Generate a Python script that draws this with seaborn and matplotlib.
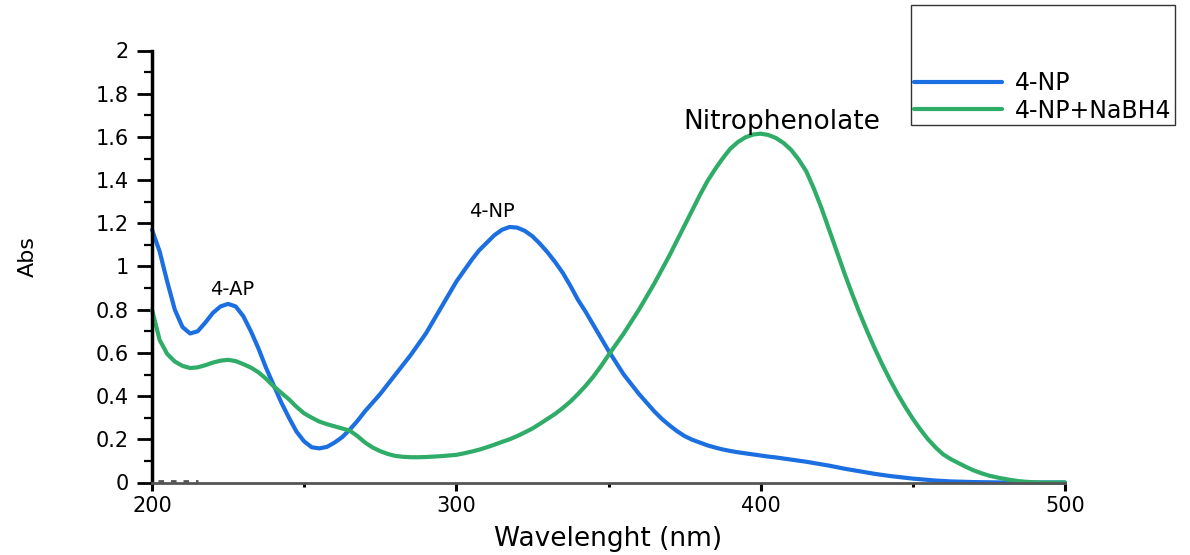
import numpy as np
import pandas as pd
import matplotlib
matplotlib.use("Agg")
import matplotlib.pyplot as plt
from matplotlib.ticker import MultipleLocator, FixedLocator, FuncFormatter
import seaborn as sns

# Wavelength grid (nm), 2.5 nm steps
wavelength = list(np.arange(200, 500.01, 2.5))

# Absorbance of 4-nitrophenol
abs_4np = [
    # 200 - 270
    1.17, 1.07, 0.93, 0.80, 0.72, 0.69, 0.70, 0.74, 0.785, 0.815,
    0.827, 0.815, 0.77, 0.70, 0.62, 0.53, 0.45, 0.37, 0.30, 0.235,
    0.19, 0.163, 0.158, 0.165, 0.185, 0.21, 0.245, 0.285, 0.33,
    # 272.5 - 400
    0.37, 0.41, 0.455, 0.50, 0.545, 0.59, 0.64, 0.69, 0.75, 0.81,
    0.87, 0.93, 0.98, 1.03, 1.075, 1.11, 1.145, 1.17, 1.183, 1.18,
    1.165, 1.14, 1.105, 1.065, 1.02, 0.97, 0.91, 0.845, 0.79, 0.73,
    0.67, 0.61, 0.555, 0.50, 0.455, 0.41, 0.37, 0.33, 0.295, 0.265,
    0.238, 0.215, 0.198, 0.185, 0.172, 0.162, 0.153, 0.146, 0.14, 0.135,
    0.13, 0.125,
    # 402.5 - 500
    0.12, 0.116, 0.111, 0.106, 0.101, 0.096, 0.09, 0.084, 0.078, 0.071,
    0.064, 0.058, 0.052, 0.046, 0.04, 0.035, 0.03, 0.026, 0.022, 0.018,
    0.015, 0.012, 0.009, 0.007, 0.005, 0.004, 0.003, 0.002, 0.0015, 0.001,
    0.0005, 0, 0, 0, 0, 0, 0, 0, 0, 0,
]

# Absorbance of 4-nitrophenol after NaBH4 addition
abs_4np_nabh4 = [
    # 200 - 270
    0.80, 0.66, 0.595, 0.56, 0.54, 0.53, 0.533, 0.543, 0.555, 0.564,
    0.568, 0.562, 0.548, 0.532, 0.51, 0.48, 0.445, 0.415, 0.385, 0.35,
    0.32, 0.30, 0.282, 0.27, 0.26, 0.25, 0.24, 0.215, 0.185,
    # 272.5 - 400
    0.162, 0.145, 0.132, 0.123, 0.119, 0.117, 0.117, 0.118, 0.12, 0.122,
    0.125, 0.128, 0.135, 0.143, 0.152, 0.163, 0.175, 0.188, 0.2, 0.215,
    0.232, 0.25, 0.272, 0.295, 0.318, 0.345, 0.375, 0.41, 0.448, 0.49,
    0.538, 0.59, 0.64, 0.69, 0.745, 0.80, 0.86, 0.92, 0.985, 1.05,
    1.12, 1.19, 1.26, 1.33, 1.395, 1.45, 1.50, 1.545, 1.576, 1.598,
    1.611, 1.615,
    # 402.5 - 500
    1.609, 1.595, 1.572, 1.54, 1.495, 1.44, 1.36, 1.27, 1.17, 1.07,
    0.97, 0.875, 0.785, 0.70, 0.62, 0.545, 0.475, 0.41, 0.35, 0.295,
    0.245, 0.20, 0.162, 0.13, 0.108, 0.09, 0.072, 0.056, 0.043, 0.032,
    0.024, 0.017, 0.011, 0.006, 0.003, 0.001, 0, 0, 0, 0,
]

series_names = ["4-NP", "4-NP+NaBH4"]
series_colors = ["#1c6fe0", "#2fac68"]

# Short instrument baseline trace near zero
baseline_x = [202, 215]
baseline_y = [0.006, 0.006]

x_major = [200, 300, 400, 500]
x_minor = [250, 350, 450]

peak_labels = ["4-AP", "4-NP", "Nitrophenolate"]
peak_pos = [(226.3, 0.895), (311.7, 1.253), (407.0, 1.67)]
peak_sizes = [14, 14, 19]

df = pd.DataFrame({
    "Wavelength": wavelength * 2,
    "Abs": abs_4np + abs_4np_nabh4,
    "Sample": [series_names[0]] * len(wavelength) + [series_names[1]] * len(wavelength),
})

sns.set_theme(style="white")
plt.rcParams["font.family"] = ["DejaVu Sans"]

fig = plt.figure(figsize=(11.9, 5.55), dpi=100)
ax = fig.add_axes([152 / 1190, 1 - 482.5 / 555, 913 / 1190, 432 / 555])

sns.lineplot(data=df, x="Wavelength", y="Abs", hue="Sample",
             palette=dict(zip(series_names, series_colors)),
             linewidth=3.0, legend=False, ax=ax, sort=True)
for ln in ax.lines:
    ln.set_clip_on(False)
    ln.set_solid_joinstyle("round")

ax.plot(baseline_x, baseline_y, color="#555555", linewidth=2,
        linestyle=(0, (2, 2.5)))

ax.set_xlim(200, 500)
ax.set_ylim(0, 2)

ax.xaxis.set_major_locator(FixedLocator(x_major))
ax.xaxis.set_minor_locator(FixedLocator(x_minor))
ax.yaxis.set_major_locator(MultipleLocator(0.2))
ax.yaxis.set_minor_locator(MultipleLocator(0.1))
ax.yaxis.set_major_formatter(FuncFormatter(lambda v, p: f"{round(v, 1):g}"))

for side in ["top", "right"]:
    ax.spines[side].set_visible(False)
ax.spines["left"].set_color("black")
ax.spines["left"].set_linewidth(2.5)
ax.spines["bottom"].set_color("#555555")
ax.spines["bottom"].set_linewidth(2)

ax.tick_params(axis="y", which="major", direction="out", length=10.5, width=2,
               color="black", labelcolor="black", labelsize=15, pad=6, left=True)
ax.tick_params(axis="y", which="minor", direction="out", length=6, width=1.6,
               color="black", left=True)
ax.tick_params(axis="x", which="major", direction="out", length=6, width=2.2,
               color="black", labelcolor="black", labelsize=15, pad=4, bottom=True)
ax.tick_params(axis="x", which="minor", direction="out", length=3, width=2.2,
               color="black", bottom=True)

ax.set_xlabel("Wavelenght (nm)", fontsize=19, color="black")
ax.set_ylabel("Abs", fontsize=16, color="black")
ax.xaxis.set_label_coords(0.5, -0.10)
ax.yaxis.set_label_coords(-0.125, 0.524)

for txt, (xx, yy), fs in zip(peak_labels, peak_pos, peak_sizes):
    ax.text(xx, yy, txt, fontsize=fs, ha="center", va="center", color="black")

handles = [plt.Line2D([], [], color=c, linewidth=3) for c in series_colors]
leg = fig.legend(handles, series_names, loc="upper left",
                 bbox_to_anchor=(911 / 1190, 1 - 5 / 555),
                 bbox_transform=fig.transFigure, borderaxespad=0,
                 frameon=True, fancybox=False, fontsize=17,
                 handlelength=3.75, handletextpad=0.55, borderpad=0.12,
                 labelspacing=0.15, title="\n\n", title_fontsize=12.8)
leg.get_frame().set_edgecolor("black")
leg.get_frame().set_linewidth(1.0)
for t in leg.get_texts():
    t.set_color("black")

fig.savefig("out.png", dpi=100, facecolor="white")
